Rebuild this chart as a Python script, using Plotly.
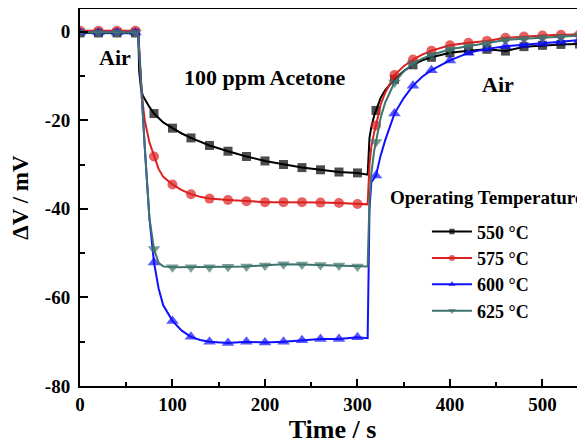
import plotly.graph_objects as go

time_s = [0, 20, 40, 60, 63, 64, 66, 68, 70, 75, 80, 85, 90, 100, 110, 120, 130, 140,
          160, 180, 200, 220, 240, 260, 280, 300, 311, 313, 315, 318, 320, 325, 330,
          340, 350, 360, 370, 380, 400, 420, 440, 460, 480, 500, 520, 540, 548]

v550 = [-0.3, -0.3, -0.3, -0.3, -0.4, -9.0, -13.0, -14.5, -15.3, -17.0, -18.5, -19.6, -20.5,
        -21.8, -23.0, -24.0, -24.9, -25.7, -27.0, -28.2, -29.2, -30.0, -30.7, -31.2, -31.7,
        -31.9, -32.3, -24.0, -21.5, -19.0, -17.8, -15.0, -13.2, -10.8, -8.9, -7.5, -6.5,
        -5.8, -4.8, -4.3, -4.0, -4.4, -3.4, -3.1, -2.9, -2.8, -2.7]

v575 = [0.2, 0.2, 0.2, 0.2, 0.0, -5.0, -11.0, -16.5, -20.0, -25.0, -28.2, -31.0, -32.8,
        -34.5, -35.8, -36.7, -37.3, -37.7, -38.0, -38.3, -38.5, -38.5, -38.5, -38.6, -38.7,
        -38.9, -39.0, -30.0, -26.0, -22.8, -21.2, -16.5, -13.8, -9.8, -7.8, -6.3, -5.2,
        -4.3, -3.1, -2.5, -2.1, -1.4, -1.1, -0.9, -0.7, -0.65, -0.6]

v600 = [-0.2, -0.2, -0.2, -0.2, -1.0, -5.0, -12.0, -19.0, -26.0, -42.0, -52.1, -58.0, -61.8,
        -65.3, -67.5, -68.9, -69.6, -70.0, -70.3, -70.0, -70.2, -70.0, -69.7, -69.4, -69.4,
        -69.0, -69.2, -40.0, -34.0, -33.0, -32.5, -28.0, -24.5, -18.5, -15.0, -12.2, -10.2,
        -8.7, -6.5, -4.8, -3.9, -3.3, -3.0, -2.7, -2.3, -1.9, -1.8]

v625 = [-0.2, -0.2, -0.2, -0.2, -1.0, -5.0, -12.0, -19.0, -26.0, -42.0, -49.1, -52.2, -53.0,
        -53.2, -53.2, -53.2, -53.2, -53.2, -53.1, -53.0, -52.8, -52.5, -52.6, -52.7, -52.8,
        -53.0, -53.0, -38.0, -32.0, -27.0, -24.9, -19.5, -16.0, -11.5, -9.0, -7.2, -6.1,
        -5.3, -4.0, -3.3, -2.7, -1.9, -1.6, -1.4, -1.2, -0.9, -0.8]

series_names = ["550 °C", "575 °C", "600 °C", "625 °C"]
series_values = [v550, v575, v600, v625]

x_ticks = [0, 100, 200, 300, 400, 500]
y_ticks = [-80, -60, -40, -20, 0]

colors = ["#000000", "#dc1f1f", "#1010ff", "#3f736e"]
symbols = ["square", "circle", "triangle-up", "triangle-down"]
msizes = [9, 10, 11, 11]

FONT = "Liberation Serif"

fig = go.Figure()
for name, vals, col, sym, ms in zip(series_names, series_values, colors, symbols, msizes):
    sizes = [ms if (t % 20 == 0 and t <= 540) else 0 for t in time_s]
    fig.add_trace(go.Scatter(
        x=time_s, y=vals, name="<b>" + name + "</b>", mode="lines+markers",
        line=dict(color=col, width=2),
        marker=dict(symbol=sym, size=sizes, color=col, line=dict(width=0)),
    ))

# page body has an 8px default margin, so the figure is sized to fit the 585x446 window
fig.update_layout(
    width=577, height=438,
    margin=dict(l=72, r=0, t=1, b=60),
    paper_bgcolor="white", plot_bgcolor="white",
    font=dict(family=FONT, color="black", size=18),
    showlegend=True,
    legend=dict(x=0.687, y=0.458, xanchor="left", yanchor="top",
                font=dict(family=FONT, size=18, color="black"),
                bgcolor="rgba(0,0,0,0)", itemwidth=40, tracegroupgap=0),
    xaxis=dict(range=[0, 546], tickvals=x_ticks, ticktext=["<b>%d</b>" % v for v in x_ticks],
               ticks="inside", ticklen=7, tickwidth=1.5, tickcolor="black",
               minor=dict(dtick=50, ticks="inside", ticklen=4, tickwidth=1.5, tickcolor="black"),
               showline=True, linecolor="black", linewidth=2, mirror=True,
               showgrid=False, zeroline=False, automargin=False,
               tickfont=dict(family=FONT, size=19, color="black"),
               title=dict(text="<b>Time / s</b>", font=dict(family=FONT, size=26, color="black"), standoff=0)),
    yaxis=dict(range=[-80, 5.1], tickvals=y_ticks, ticktext=["<b>%d</b>" % v for v in y_ticks],
               ticks="inside", ticklen=8, tickwidth=1.5, tickcolor="black",
               minor=dict(dtick=10, ticks="inside", ticklen=5, tickwidth=1.5, tickcolor="black"),
               showline=True, linecolor="black", linewidth=2, mirror=False,
               showgrid=False, zeroline=False, automargin=False, ticklabelstandoff=4,
               tickfont=dict(family=FONT, size=19, color="black"),
               title=dict(text="<b>ΔV / mV</b>", font=dict(family=FONT, size=23, color="black"), standoff=14)),
)

annots = [
    dict(text="Air", x=38, y=-5.8),
    dict(text="100 ppm Acetone", x=200, y=-10.3),
    dict(text="Air", x=452, y=-12.0),
]
for a in annots:
    fig.add_annotation(x=a["x"], y=a["y"], xref="x", yref="y", text="<b>" + a["text"] + "</b>",
                       showarrow=False, xanchor="center", yanchor="middle",
                       font=dict(family=FONT, size=22, color="black"))

fig.add_annotation(x=1.0, y=-37.5, xref="paper", yref="y", text="<b>Operating Temperature</b>",
                   showarrow=False, xanchor="right", yanchor="middle",
                   font=dict(family=FONT, size=19, color="black"))

fig.write_html("out.html")
